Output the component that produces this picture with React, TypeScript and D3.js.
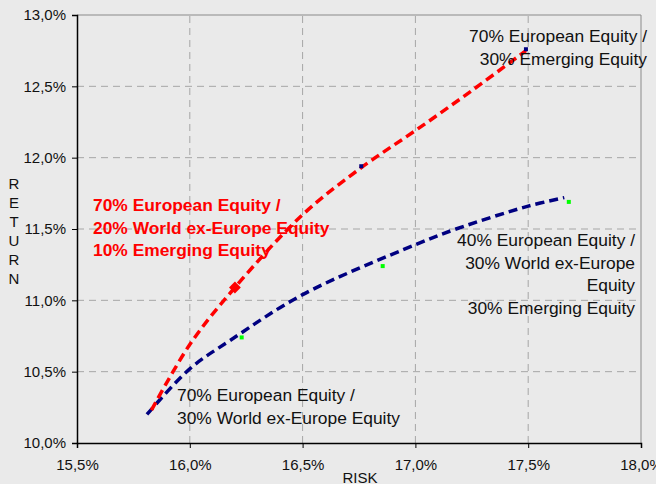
import { useEffect, useRef } from "react";
import * as d3 from "d3";

// risk / return pairs (in %)
const redRisk = [15.83, 16.0, 16.2, 16.5, 16.76, 17.0, 17.25, 17.49];
const redReturn = [10.23, 10.69, 11.09, 11.6, 11.93, 12.19, 12.47, 12.75];

const blueRisk = [15.81, 16.0, 16.18, 16.5, 17.0, 17.18, 17.5, 17.66];
const blueReturn = [10.2, 10.52, 10.72, 11.04, 11.39, 11.5, 11.66, 11.72];

const greenRisk = [16.23, 16.855, 17.68];
const greenReturn = [10.74, 11.24, 11.69];

const navyRisk = [16.76, 17.49];
const navyReturn = [11.94, 12.76];

const diamondRisk = [16.2];
const diamondReturn = [11.09];

const xTicks = [15.5, 16.0, 16.5, 17.0, 17.5, 18.0];
const yTicks = [10.0, 10.5, 11.0, 11.5, 12.0, 12.5, 13.0];

const fmt = (v: number) => v.toFixed(1).replace(".", ",") + "%";

const App = () => {
  const svgRef = useRef<SVGSVGElement | null>(null);

  useEffect(() => {
    if (!svgRef.current) return;
    const width = 656;
    const height = 484;
    const m = { left: 77, right: 15, top: 15, bottom: 41 };

    const svg = d3.select(svgRef.current);
    svg.selectAll("*").remove();
    svg.attr("width", width).attr("height", height);

    svg.append("rect").attr("width", width).attr("height", height).attr("fill", "#eaeaea");

    const x = d3.scaleLinear().domain([15.5, 18.0]).range([m.left, width - m.right]);
    const y = d3.scaleLinear().domain([10.0, 13.0]).range([height - m.bottom, m.top]);

    const font = "Liberation Sans, Arial, sans-serif";

    // grid
    svg
      .append("g")
      .selectAll("line")
      .data(xTicks.slice(1, -1))
      .enter()
      .append("line")
      .attr("x1", (d) => x(d))
      .attr("x2", (d) => x(d))
      .attr("y1", y(10))
      .attr("y2", y(13))
      .attr("stroke", "#a6a6a6")
      .attr("stroke-dasharray", "7,5");
    svg
      .append("g")
      .selectAll("line")
      .data(yTicks.slice(1, -1))
      .enter()
      .append("line")
      .attr("x1", x(15.5))
      .attr("x2", x(18))
      .attr("y1", (d) => y(d))
      .attr("y2", (d) => y(d))
      .attr("stroke", "#a6a6a6")
      .attr("stroke-dasharray", "7,5");

    // border
    svg
      .append("path")
      .attr("d", `M${x(15.5)},${y(13)}H${x(18)}V${y(10)}`)
      .attr("fill", "none")
      .attr("stroke", "#8a8a8a");

    // axes
    const xAxis = svg
      .append("g")
      .attr("transform", `translate(0,${y(10)})`)
      .call(d3.axisBottom(x).tickValues(xTicks).tickFormat((d: any) => fmt(d)).tickSize(5).tickPadding(11));
    const yAxis = svg
      .append("g")
      .attr("transform", `translate(${x(15.5)},0)`)
      .call(d3.axisLeft(y).tickValues(yTicks).tickFormat((d: any) => fmt(d)).tickSize(5).tickPadding(6));
    [xAxis, yAxis].forEach((a) => {
      a.select(".domain").attr("stroke", "#000").attr("stroke-width", 1.5);
      a.selectAll(".tick line").attr("stroke", "#000");
      a.selectAll(".tick text").attr("font-family", font).attr("font-size", 15).attr("fill", "#111");
    });

    svg
      .append("text")
      .attr("x", 360)
      .attr("y", 483)
      .attr("text-anchor", "middle")
      .attr("font-family", font)
      .attr("font-size", 15)
      .attr("fill", "#111")
      .text("RISK");

    svg
      .append("g")
      .selectAll("text")
      .data("RETURN".split(""))
      .enter()
      .append("text")
      .attr("x", 14)
      .attr("y", (d, i) => 189 + i * 19)
      .attr("text-anchor", "middle")
      .attr("font-family", font)
      .attr("font-size", 15)
      .attr("fill", "#111")
      .text((d) => d);

    const line = d3
      .line<[number, number]>()
      .x((d) => x(d[0]))
      .y((d) => y(d[1]))
      .curve(d3.curveCatmullRom);

    svg
      .append("path")
      .attr("d", line(blueRisk.map((r, i) => [r, blueReturn[i]]) as any))
      .attr("fill", "none")
      .attr("stroke", "#000080")
      .attr("stroke-width", 3.5)
      .attr("stroke-dasharray", "9,5");

    svg
      .append("path")
      .attr("d", line(redRisk.map((r, i) => [r, redReturn[i]]) as any))
      .attr("fill", "none")
      .attr("stroke", "#ff0000")
      .attr("stroke-width", 3.5)
      .attr("stroke-dasharray", "9,5");

    svg
      .append("g")
      .selectAll("rect")
      .data(greenRisk.map((r, i) => [r, greenReturn[i]]))
      .enter()
      .append("rect")
      .attr("x", (d) => x(d[0]) - 2)
      .attr("y", (d) => y(d[1]) - 2)
      .attr("width", 4)
      .attr("height", 4)
      .attr("fill", "#00ff00");

    svg
      .append("g")
      .selectAll("rect")
      .data(navyRisk.map((r, i) => [r, navyReturn[i]]))
      .enter()
      .append("rect")
      .attr("x", (d) => x(d[0]) - 2)
      .attr("y", (d) => y(d[1]) - 2)
      .attr("width", 4)
      .attr("height", 4)
      .attr("fill", "#000080");

    svg
      .append("g")
      .selectAll("path")
      .data(diamondRisk.map((r, i) => [r, diamondReturn[i]]))
      .enter()
      .append("path")
      .attr("transform", (d) => `translate(${x(d[0])},${y(d[1])}) rotate(45)`)
      .attr("d", d3.symbol(d3.symbolSquare, 70) as any)
      .attr("fill", "#ff0000");

    const label = (lines: string[], lx: number, ly: number, anchor: string, color: string, bold: boolean) => {
      const t = svg
        .append("text")
        .attr("font-family", font)
        .attr("font-size", 17.4)
        .attr("font-weight", bold ? "bold" : "normal")
        .attr("fill", color)
        .attr("text-anchor", anchor);
      lines.forEach((s, i) => {
        t.append("tspan").attr("x", lx).attr("y", ly + i * 22.5).text(s);
      });
    };

    label(["70% European Equity /", "30% Emerging Equity"], 647, 42, "end", "#111", false);
    label(
      ["70% European Equity /", "20% World ex-Europe Equity", "10% Emerging Equity"],
      93,
      211,
      "start",
      "#ff0000",
      true
    );
    label(
      ["40% European Equity /", "30% World ex-Europe", "Equity", "30% Emerging Equity"],
      635,
      246,
      "end",
      "#111",
      false
    );
    label(["70% European Equity /", "30% World ex-Europe Equity"], 177, 401, "start", "#111", false);
  }, []);

  return <svg ref={svgRef} style={{ position: "absolute", left: 0, top: 0 }}></svg>;
};

export default App;
